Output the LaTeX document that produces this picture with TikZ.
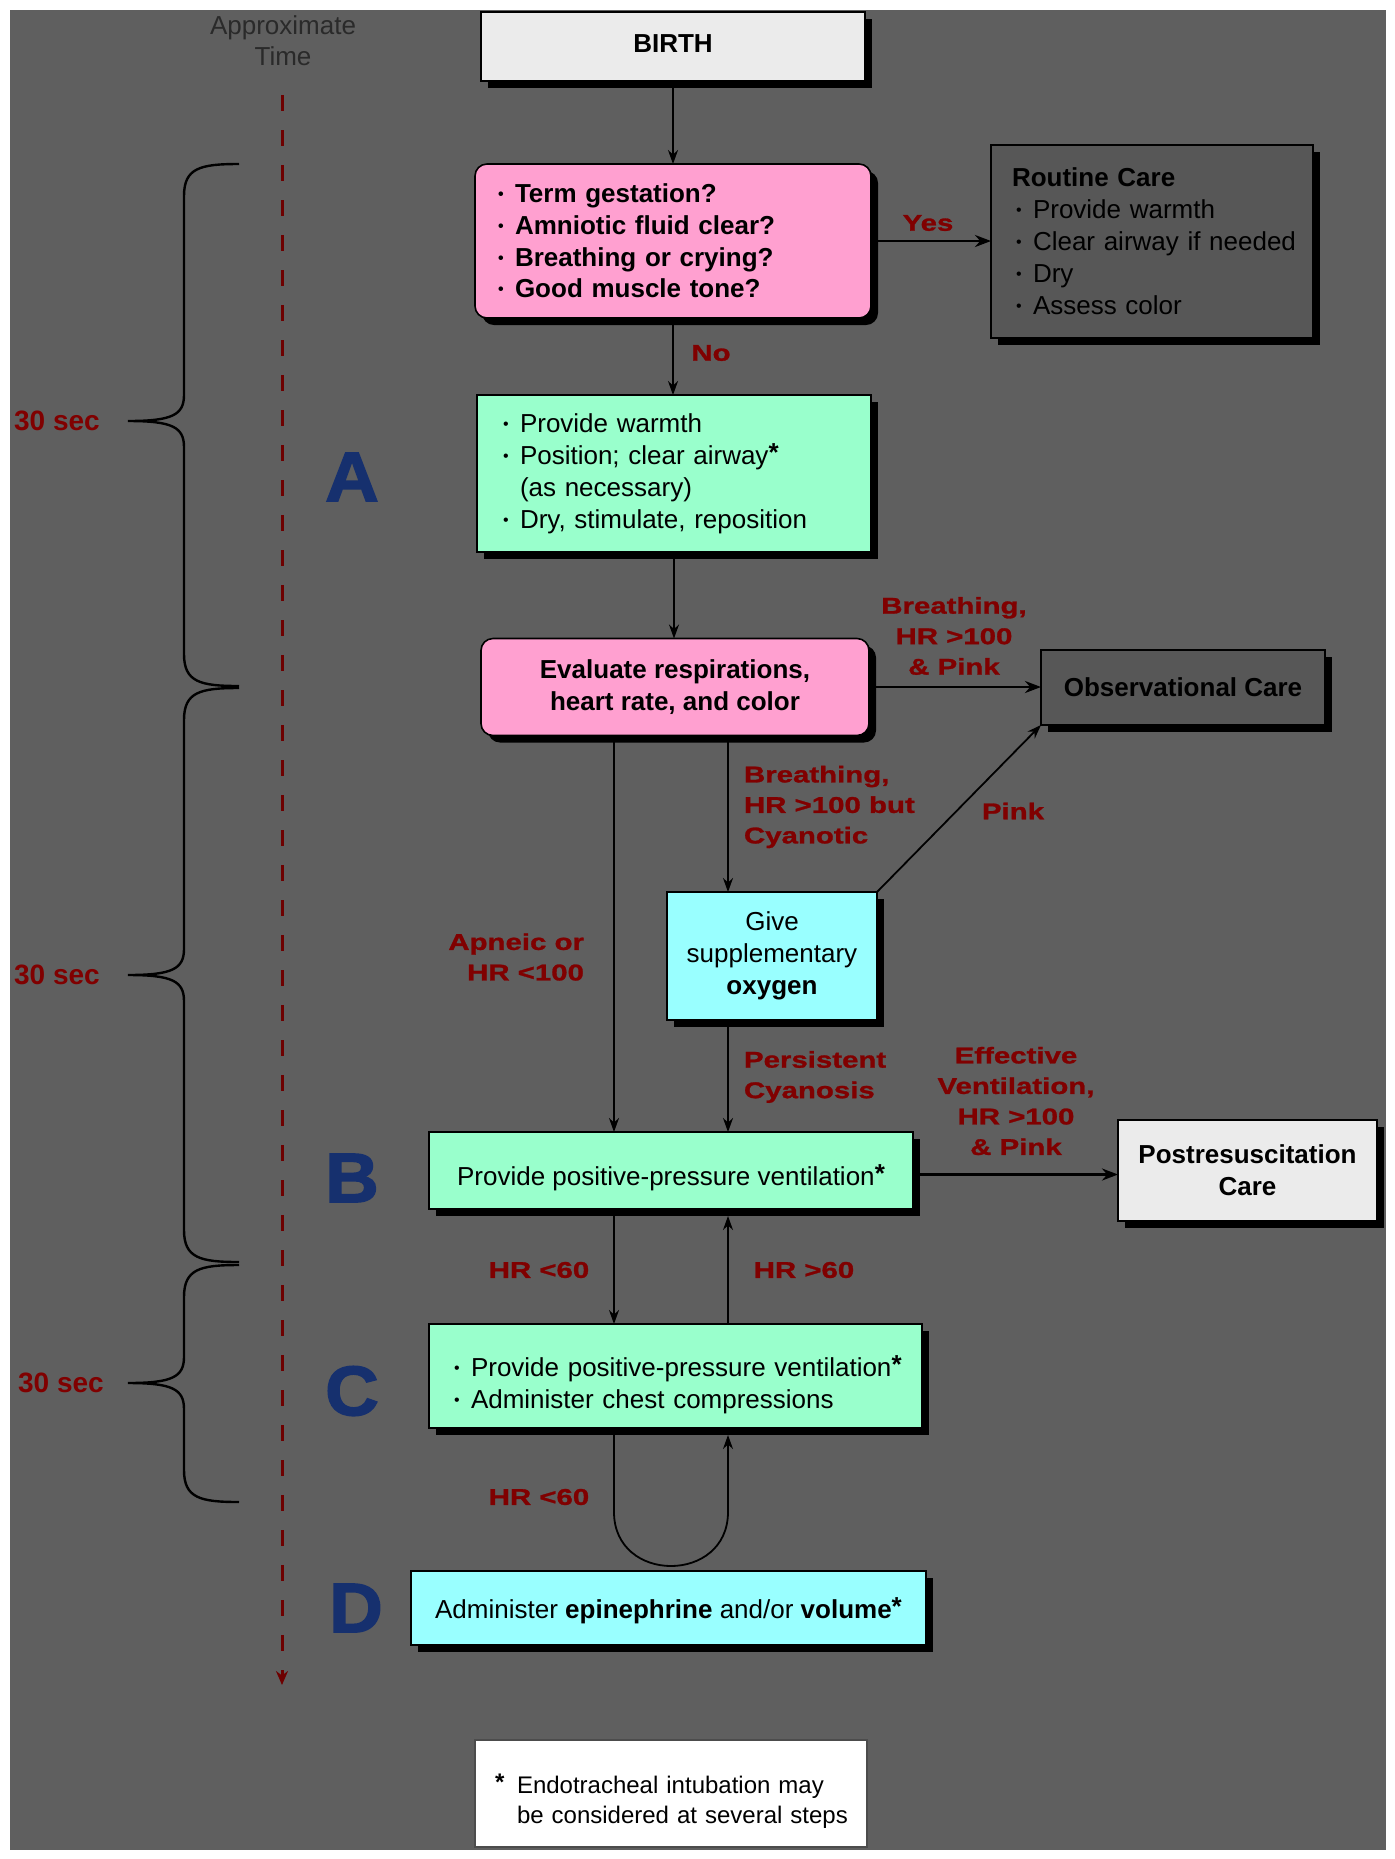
\documentclass[tikz,border=0pt]{standalone}
\usepackage{fontspec}
\setmainfont{Liberation Sans}
\newfontfamily\lblfont[FakeStretch=1.29,FakeBold=1.2]{Liberation Sans}
\newfontfamily\letfont[FakeStretch=1.06,FakeBold=2.2]{Liberation Sans}
\usetikzlibrary{arrows.meta,shadows}
\definecolor{bg}{HTML}{5F5F5F}
\definecolor{pinkc}{HTML}{FFA0D0}
\definecolor{greenc}{HTML}{99FFCC}
\definecolor{cyanc}{HTML}{99FFFF}
\definecolor{lgray}{HTML}{EBEBEB}
\definecolor{rgray}{HTML}{575757}
\definecolor{labred}{HTML}{800000}
\definecolor{lblue}{HTML}{16306E}
\definecolor{tgray}{HTML}{2A2A2A}
\newcommand\bul{\makebox[8.5pt][l]{\raisebox{1.5pt}{\fontsize{8}{8}\selectfont\textbullet}}}
\newcommand\astx{\raisebox{1.5pt}{\bfseries *}}
\newcommand\li[1]{\hspace*{#1pt}}
\newcommand\mybrace[3]{\draw[line width=1.2pt,black] (239,#1) .. controls (200,#1) and (184,#1+4) .. (184,#1+32) -- (184,#2-26) .. controls (184,#2-6) and (172,#2) .. (128,#2) .. controls (172,#2) and (184,#2+6) .. (184,#2+26) -- (184,#3-32) .. controls (184,#3-4) and (200,#3) .. (239,#3);}
\begin{document}
\begin{tikzpicture}[x=0.5pt,y=-0.5pt,
  every node/.style={inner sep=0pt, outer sep=0pt},
  box/.style={draw=black, line width=0.8pt, drop shadow={shadow xshift=3.5pt,shadow yshift=-3.5pt,fill=black,opacity=1}},
  footbox/.style={draw=black!70, line width=0.8pt},
  body/.style={font=\fontsize{13}{16}\selectfont},
  bbody/.style={font=\fontsize{13}{16}\selectfont\bfseries},
  lbl/.style={text=labred, font=\lblfont\bfseries\fontsize{11.4}{15.25}\selectfont},
  secl/.style={text=labred, font=\fontsize{14}{14}\selectfont\bfseries},
  letter/.style={text=lblue, font=\letfont\bfseries\fontsize{35}{35}\selectfont},
  arr/.style={-{Stealth[length=7pt,width=5pt]}, line width=0.9pt, black},
  tarr/.style={-{Stealth[length=8pt,width=6pt]}, line width=1.4pt, black},
]
\fill[white] (0,0) rectangle (1394,1859);
\fill[bg] (10,10) rectangle (1386,1850);
\useasboundingbox (0,0) rectangle (1394,1859);

% time axis
\node[font=\fontsize{13}{15.5}\selectfont, text=tgray, align=center] (aptime) at (283,41) {Approximate\\Time};
\coordinate (tt) at (282,95);
\coordinate (tb) at (282,1685);
\draw[labred!85!black, line width=1.5pt, dash pattern=on 8pt off 9.5pt, -{Stealth[length=7pt,width=6pt]}] (tt) -- (tb);

\mybrace{164}{421}{686}
\mybrace{688}{975}{1262}
\mybrace{1265}{1383}{1502}
\node[secl] (s1) at (57,421) {30 sec};
\node[secl] (s2) at (57,975) {30 sec};
\node[secl] (s3) at (61,1383) {30 sec};

\node[letter] (la) at (352,477) {A};
\node[letter] (lb) at (352,1178) {B};
\node[letter] (lc) at (352,1391) {C};
\node[letter] (ld) at (356,1608) {D};

% boxes
\node[box, fill=lgray, minimum width=192pt, minimum height=34.5pt, bbody, text height=6pt] (birth) at (673,46.5) {BIRTH};
\node[box, fill=pinkc, rounded corners=6pt, minimum width=198pt, minimum height=77pt, text width=198pt, align=left, font=\fontsize{13}{15.8}\selectfont\bfseries] (q) at (673,241)
 {\li{11.5}\bul Term gestation?\\\li{11.5}\bul Amniotic fluid clear?\\\li{11.5}\bul Breathing or crying?\\\li{11.5}\bul Good muscle tone?};
\node[box, fill=rgray, minimum width=161pt, minimum height=96.5pt, text width=161pt, align=left, body] (routine) at (1152,241.5)
 {\li{10.5}\textbf{Routine Care}\\\li{12.5}\bul Provide warmth\\\li{12.5}\bul Clear airway if needed\\\li{12.5}\bul Dry\\\li{12.5}\bul Assess color};
\node[box, fill=greenc, minimum width=197pt, minimum height=78.5pt, text width=197pt, align=left, body] (a) at (674,473.5)
 {\li{13}\bul Provide warmth\\\li{13}\bul Position; clear airway\astx\\\li{21.5}(as necessary)\\\li{13}\bul Dry, stimulate, reposition};
\node[box, fill=pinkc, rounded corners=6pt, minimum width=194pt, minimum height=48.5pt, align=center, font=\fontsize{13}{15.8}\selectfont\bfseries] (eval) at (675,687)
 {Evaluate respirations,\\heart rate, and color};
\node[box, fill=rgray, minimum width=142pt, minimum height=37.5pt, bbody] (obs) at (1183,687.5) {Observational Care};
\node[box, fill=cyanc, minimum width=105pt, minimum height=64pt, align=center, body] (give) at (772,956)
 {Give\\supplementary\\\textbf{oxygen}};
\node[box, fill=greenc, minimum width=242pt, minimum height=38.5pt, body, text height=17pt, text depth=2.5pt] (ppv) at (671,1170.5)
 {Provide positive-pressure ventilation\astx};
\node[box, fill=lgray, minimum width=129.5pt, minimum height=50.5pt, align=center, bbody] (post) at (1247.5,1170.5)
 {Postresuscitation\\Care};
\node[box, fill=greenc, minimum width=246.5pt, minimum height=52pt, text width=246.5pt, align=left, body, text height=8pt, text depth=8pt] (c) at (675.5,1376)
 {\li{12.5}\bul Provide positive-pressure ventilation\astx\\\li{12.5}\bul Administer chest compressions};
\node[box, fill=cyanc, minimum width=257.5pt, minimum height=37pt, body, text height=13pt, text depth=2.5pt] (d) at (668.5,1608)
 {Administer \textbf{epinephrine} and/or \textbf{volume}\astx};
\node[footbox, fill=white, minimum width=196pt, minimum height=53.5pt, text width=196pt, align=left, font=\fontsize{12}{15}\selectfont, text height=13pt, text depth=13pt] (foot) at (671,1793.5)
 {\li{10}\makebox[11pt][l]{\astx}Endotracheal intubation may\\\li{21}be considered at several steps};

% helper coordinates
\coordinate (colL) at (614,0);
\coordinate (colR) at (728,0);
\coordinate (ppvb) at ([yshift=-3.5pt]ppv.south);
\coordinate (cb) at ([yshift=-3.5pt]c.south);
\coordinate (lpA) at (614,1512);
\coordinate (lpB) at (728,1512);

% connectors
\draw[arr] (birth.south) -- (q.north);
\draw[tarr] (q.east) -- (q.east -| routine.west);
\draw[arr] (q.south) -- (q.south |- a.north);
\draw[arr] (a.south) -- (a.south |- eval.north);
\draw[tarr] (eval.east) -- (eval.east -| obs.west);
\draw[arr] (eval.south -| colR) -- (give.north -| colR);
\draw[arr] (give.north east) -- (obs.south west);
\draw[arr] (eval.south -| colL) -- (ppv.north -| colL);
\draw[arr] (give.south -| colR) -- (ppv.north -| colR);
\draw[tarr] ([yshift=-2pt]ppv.east) -- ([yshift=-2pt]ppv.east -| post.west);
\draw[arr] (ppv.south -| colL) -- (c.north -| colL);
\draw[arr] (c.north -| colR) -- (ppvb -| colR);
\draw[arr] (c.south -| colL) -- (lpA) .. controls (614,1584) and (728,1584) .. (lpB) -- (cb -| colR);

% labels
\node[lbl] (lyes) at (928,223) {Yes};
\node[lbl] (lno) at (711,353) {No};
\node[lbl, align=center] (lbhp) at (954,636) {Breathing,\\HR >100\\\& Pink};
\node[lbl, align=left, anchor=west] (lbhc) at (744,807) {Breathing,\\HR >100 but\\Cyanotic};
\node[lbl] (lpink) at (1013,811) {Pink};
\node[lbl, align=right, anchor=east] (lapn) at (584,957) {Apneic or\\HR <100};
\node[lbl, align=left, anchor=west] (lpers) at (744,1077) {Persistent\\Cyanosis};
\node[lbl, align=center] (leff) at (1016,1101) {Effective\\Ventilation,\\HR >100\\\& Pink};
\node[lbl] (lhr1) at (539,1270) {HR <60};
\node[lbl] (lhr2) at (804,1270) {HR >60};
\node[lbl] (lhr3) at (539,1497) {HR <60};
\end{tikzpicture}
\end{document}
